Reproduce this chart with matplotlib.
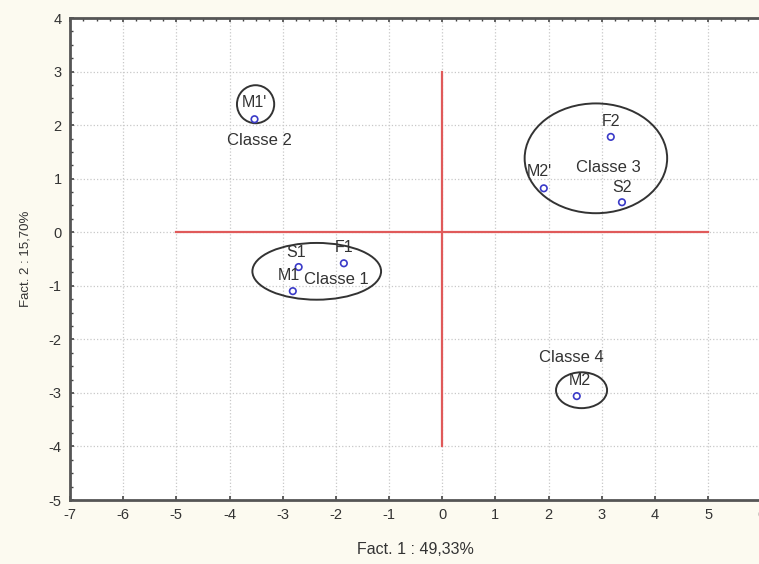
import matplotlib.pyplot as plt
from matplotlib.patches import Ellipse
from matplotlib.ticker import MultipleLocator

# Points (factor coordinates)
names = ["M1'", "S1", "F1", "M1", "F2", "M2'", "S2", "M2"]
fact1 = [-3.53, -2.70, -1.85, -2.81, 3.17, 1.91, 3.38, 2.53]
fact2 = [2.11, -0.65, -0.58, -1.10, 1.78, 0.82, 0.56, -3.06]
label_dx = [0.0, -0.05, 0.0, -0.08, 0.0, -0.08, 0.0, 0.05]
label_dy = [0.32, 0.28, 0.30, 0.30, 0.28, 0.32, 0.27, 0.29]

# Classes: name, label position, ellipse center and size
class_names = ["Classe 1", "Classe 2", "Classe 3", "Classe 4"]
class_label_x = [-2.0, -3.43, 3.13, 2.43]
class_label_y = [-0.88, 1.72, 1.21, -2.33]
ell_cx = [-2.36, -3.51, 2.89, 2.62]
ell_cy = [-0.73, 2.39, 1.38, -2.95]
ell_w = [2.42, 0.70, 2.68, 0.96]
ell_h = [1.06, 0.71, 2.05, 0.67]

bg = "#fcfaf0"
text_col = "#333333"

plt.rcParams["font.family"] = ["Liberation Sans", "DejaVu Sans"]
plt.rcParams["axes.unicode_minus"] = False

fig = plt.figure(figsize=(7.59, 5.64), dpi=100, facecolor=bg)
ax = fig.add_axes([70 / 759, 64 / 564, 1.003 - 70 / 759, 482 / 564])
ax.set_facecolor("white")

ax.set_xlim(-7, 6)
ax.set_ylim(-5, 4)

# red cross
ax.plot([-5, 5], [0, 0], color="#e05a5a", lw=1.6, zorder=2)
ax.plot([0, 0], [-4, 3], color="#e05a5a", lw=1.6, zorder=2)

ax.scatter(fact1, fact2, s=22, facecolors="none", edgecolors="#3a3ac8",
           linewidths=1.2, zorder=4)
for n, x, y, dx, dy in zip(names, fact1, fact2, label_dx, label_dy):
    ax.text(x + dx, y + dy, n, ha="center", va="center", fontsize=11.5,
            color=text_col, zorder=5)

for n, lx, ly in zip(class_names, class_label_x, class_label_y):
    ax.text(lx, ly, n, ha="center", va="center", fontsize=12,
            color=text_col, zorder=5)

for cx, cy, w, h in zip(ell_cx, ell_cy, ell_w, ell_h):
    ax.add_patch(Ellipse((cx, cy), w, h, fill=False, edgecolor="#333333",
                         lw=1.4, zorder=3))

ax.xaxis.set_major_locator(MultipleLocator(1))
ax.yaxis.set_major_locator(MultipleLocator(1))
ax.xaxis.set_minor_locator(MultipleLocator(0.25))
ax.yaxis.set_minor_locator(MultipleLocator(0.25))
ax.grid(True, which="major", color="#c8c8c8", linestyle=":", linewidth=0.9)
ax.set_axisbelow(True)

ax.tick_params(axis="both", which="both", direction="in", colors="#444444",
               labelcolor=text_col, labelsize=10.5)
ax.tick_params(axis="both", which="major", length=3, width=1.2, pad=6)
ax.tick_params(axis="y", which="minor", length=2, width=1)
ax.tick_params(axis="x", which="minor", length=2, width=1, bottom=False,
               top=True)
ax.tick_params(axis="x", which="major", top=True)

for side in ["left", "bottom", "top"]:
    ax.spines[side].set_color("#555555")
    ax.spines[side].set_linewidth(2)
ax.spines["right"].set_visible(False)

ax.set_xlabel("Fact. 1 : 49,33%", fontsize=11.5, color=text_col, labelpad=14)
ax.set_ylabel("Fact. 2 : 15,70%", fontsize=9.5, color=text_col, labelpad=12)

fig.savefig("out.png", dpi=100, facecolor=bg)
